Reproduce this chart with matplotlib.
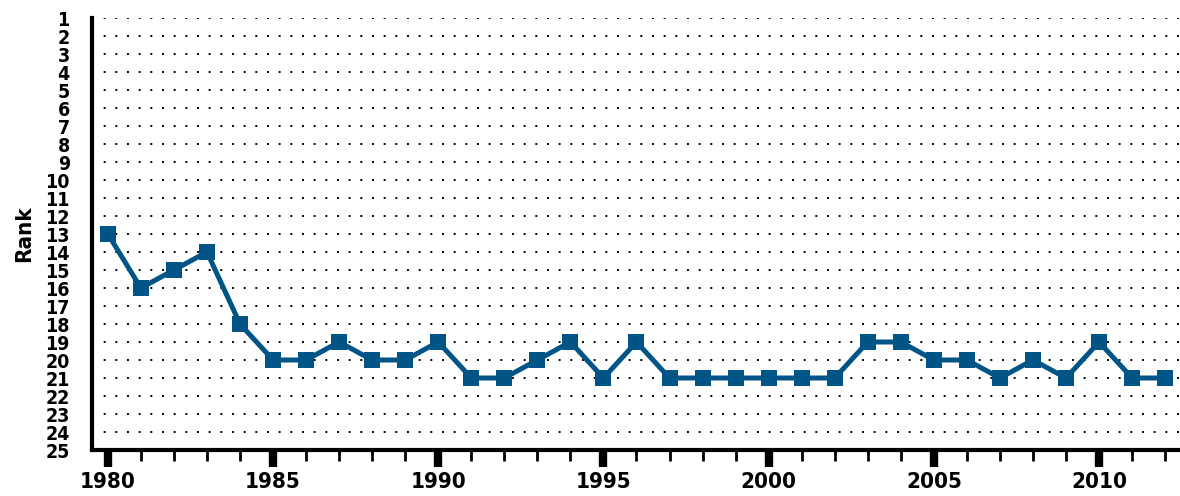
import matplotlib
matplotlib.use("Agg")
import matplotlib.pyplot as plt
from matplotlib.ticker import MultipleLocator

years = list(range(1980, 2013))
rank = [13, 16, 15, 14, 18, 20, 20, 19, 20, 20, 19, 21, 21, 20, 19, 21, 19,
        21, 21, 21, 21, 21, 21, 19, 19, 20, 20, 21, 20, 21, 19, 21, 21]
rank_ticks = list(range(1, 26))
year_ticks = [1980, 1985, 1990, 1995, 2000, 2005, 2010]

plt.rcParams['font.family'] = ['DejaVu Sans']
plt.rcParams['font.stretch'] = 'condensed'

fig = plt.figure(figsize=(11.8, 4.96), dpi=100)
ax = fig.add_axes([92/1180, 1 - 450/496, 1 - 92/1180, (450 - 18)/496])

ax.plot(years, rank, color='#005586', lw=3.6, marker='s', ms=12,
        markeredgewidth=0, zorder=3, clip_on=False)

ax.set_xlim(1979.52, 2012.45)
ax.set_ylim(25, 1)
ax.set_yticks(rank_ticks)
ax.set_yticklabels([str(r) for r in rank_ticks], fontsize=14, fontweight='bold',
                   fontstretch='condensed')
for r in rank_ticks[:-1]:
    ax.axhline(r, color='black', lw=1.4, ls=(0, (1, 5)), zorder=1)

ax.set_xticks(year_ticks)
ax.set_xticklabels([str(y) for y in year_ticks], fontsize=16, fontweight='bold',
                   fontstretch='condensed')
ax.xaxis.set_minor_locator(MultipleLocator(1))
ax.tick_params(axis='x', which='major', length=12, width=6, pad=4, color='black')
ax.tick_params(axis='x', which='minor', length=8, width=2, color='black')
ax.tick_params(axis='y', length=0, pad=16)

ax.spines['top'].set_visible(False)
ax.spines['right'].set_visible(False)
ax.spines['left'].set_linewidth(3)
ax.spines['bottom'].set_linewidth(3)

ax.set_ylabel('Rank', fontsize=16, fontweight='bold', fontstretch='condensed',
              labelpad=8)

fig.savefig('out.png', dpi=100)
